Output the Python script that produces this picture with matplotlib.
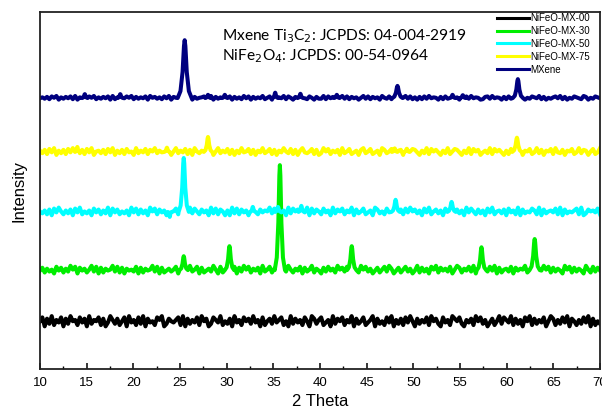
import numpy as np
import matplotlib
matplotlib.use("Agg")
import matplotlib.pyplot as plt
from matplotlib.ticker import MultipleLocator

# ---------------- data ----------------
series_names = ["NiFeO-MX-00", "NiFeO-MX-30", "NiFeO-MX-50", "NiFeO-MX-75", "MXene"]
series_colors = ["#000000", "#00ee00", "#00ffff", "#ffff00", "#00007f"]
baselines = [13.2, 27.7, 44.0, 60.8, 75.9]   # stacking offsets (arb. units)
noise_scale = [0.36, 0.27, 0.27, 0.24, 0.13]  # band half-height per digit step

# peaks: (2theta, height above baseline, half width)
peaks_mx00 = []
peaks_mx30 = [(25.4, 3.9, 0.45), (30.3, 6.7, 0.5), (35.7, 29.4, 0.55),
              (43.4, 6.7, 0.5), (57.3, 6.4, 0.5), (63.0, 8.7, 0.55)]
peaks_mx50 = [(23.9, -1.4, 0.2), (25.4, 15.1, 0.55), (32.8, 1.4, 0.3), (35.5, 1.4, 0.3),
              (38.0, 1.7, 0.3), (48.1, 3.4, 0.45), (54.1, 2.8, 0.45)]
peaks_mx75 = [(14.0, 1.4, 0.25), (23.6, 1.2, 0.3), (28.0, 4.2, 0.45),
              (48.0, 1.0, 0.3), (49.3, 0.9, 0.3), (61.1, 4.0, 0.5)]
peaks_mxene = [(14.8, 1.1, 0.3), (18.6, 1.1, 0.3), (25.5, 16.2, 0.75), (28.0, 0.9, 0.3),
               (29.8, 0.9, 0.3), (35.2, 1.5, 0.3), (37.9, 1.2, 0.3), (41.8, 0.9, 0.3),
               (48.3, 3.4, 0.55), (54.2, 0.9, 0.3), (55.3, 0.8, 0.3), (61.2, 5.3, 0.55)]

# baseline noise read as a band along each trace, 10 -> 70 deg (digits 0-9, 4.5 = centre)
noise_mx00 = ("5817392648173956284719365827149637258194"
              "6283917452869137546829173648295713864925"
              "3719462857394618257394682519374628519736"
              "8246193758264917358246917352849163728495"
              "1736482957318462975831647295836147259386"
              "4927361859273648159726384917526384917253")
noise_mx30 = ("4726351847263958174625938172645938271645"
              "3817264593817246358172649358172463951827"
              "6248173958264719358264817395264817359264"
              "1738462957381647295836147258396147258361"
              "4927361859274638159726483917526384917256"
              "3817465928371649582736419582736419528374")
noise_mx50 = ("5362718495263718492536184726391847253619"
              "4827361958274613958274619385274619382751"
              "6193827461938274659382746193857264918375"
              "2846193758264917358246197352849163728495"
              "7361849257361849527361948527361849256371"
              "8462917354862917356482917354682913756482")
noise_mx75 = ("6372849163728491637284915637284916372845"
              "1936482759364827159364827195364827159364"
              "8271639458271649358271649538271694358271"
              "3958264719358246179358246197358246719358"
              "7416392857416392587416392857146392857416"
              "2849371658249371658294371658249376158249")
noise_mxene = ("4637285916374829163748592637481926374859"
               "2736481957362849175362849173568249173658"
               "5817362948173649258173649285173694285173"
               "3928471659382746159382746195382746159382"
               "6172839465172839456172839465127839465172"
               "8364927153864927153684927153864297153864")

xlim = (10, 70)
ylim = (0, 100)
annotation_lines = ["Mxene Ti$_3$C$_2$: JCPDS: 04-004-2919",
                    "NiFe$_2$O$_4$: JCPDS: 00-54-0964"]

# ---------------- build traces ----------------
shape_dx = [-1.0, -0.6, -0.3, -0.1, 0.0, 0.1, 0.3, 0.6, 1.0]
shape_fy = [0.0, 0.12, 0.45, 0.9, 1.0, 0.9, 0.45, 0.12, 0.0]


def build_trace(noise, peaks, base, scale):
    vals = np.array([int(c) for c in noise], float)
    xs = np.linspace(xlim[0], xlim[1], len(vals))
    ys = base + (vals - 4.5) * scale
    keep = np.ones(len(xs), bool)
    px, py = [], []
    for p, h, hw in peaks:
        keep &= ~((xs > p - hw) & (xs < p + hw))
        for dx, fy in zip(shape_dx, shape_fy):
            px.append(p + dx * hw)
            py.append(base + fy * h)
    allx = np.concatenate([xs[keep], px])
    ally = np.concatenate([ys[keep], py])
    order = np.argsort(allx, kind="stable")
    return allx[order], ally[order]


all_noise = [noise_mx00, noise_mx30, noise_mx50, noise_mx75, noise_mxene]
all_peaks = [peaks_mx00, peaks_mx30, peaks_mx50, peaks_mx75, peaks_mxene]

# ---------------- figure ----------------
plt.rcParams["font.family"] = ["Liberation Sans", "DejaVu Sans"]
fig = plt.figure(figsize=(6.02, 4.07), dpi=100)
ax = fig.add_axes([40 / 602, 1 - 369 / 407, 560 / 602, 357 / 407])

for name, col, base, nz, pk, sc in zip(series_names, series_colors, baselines,
                                       all_noise, all_peaks, noise_scale):
    x, y = build_trace(nz, pk, base, sc)
    ax.plot(x, y, color=col, lw=2.9, label=name)

ax.set_xlim(*xlim)
ax.set_ylim(*ylim)
ax.set_yticks([])
ax.xaxis.set_major_locator(MultipleLocator(5))
ax.xaxis.set_minor_locator(MultipleLocator(2.5))
ax.tick_params(axis="x", which="major", direction="in", length=4.5, width=1.1,
               labelsize=9.5, pad=6)
ax.tick_params(axis="x", which="minor", direction="in", length=2.5, width=1.0)
ax.tick_params(axis="x", top=False)
for s in ax.spines.values():
    s.set_linewidth(1.3)
    s.set_color("#222222")

ax.set_xlabel("2 Theta", fontsize=12, labelpad=3)
ax.set_ylabel("Intensity", fontsize=12, labelpad=10)

ax.legend(handles=[plt.Line2D([], [], color=c, lw=2.2) for c in series_colors],
          labels=series_names, loc="upper left",
          bbox_to_anchor=(497 / 602, 1 - 13 / 407), bbox_transform=fig.transFigure,
          frameon=False, fontsize=7, handlelength=3.3, handletextpad=0.15,
          labelspacing=0.3, borderpad=0, borderaxespad=0)

fig.text(222 / 602, 1 - 36 / 407, annotation_lines[0], fontsize=11.2,
         family=["Lato", "DejaVu Sans"], va="center", ha="left")
fig.text(222 / 602, 1 - 56 / 407, annotation_lines[1], fontsize=11.2,
         family=["Lato", "DejaVu Sans"], va="center", ha="left")

fig.savefig("out.png", dpi=100)
